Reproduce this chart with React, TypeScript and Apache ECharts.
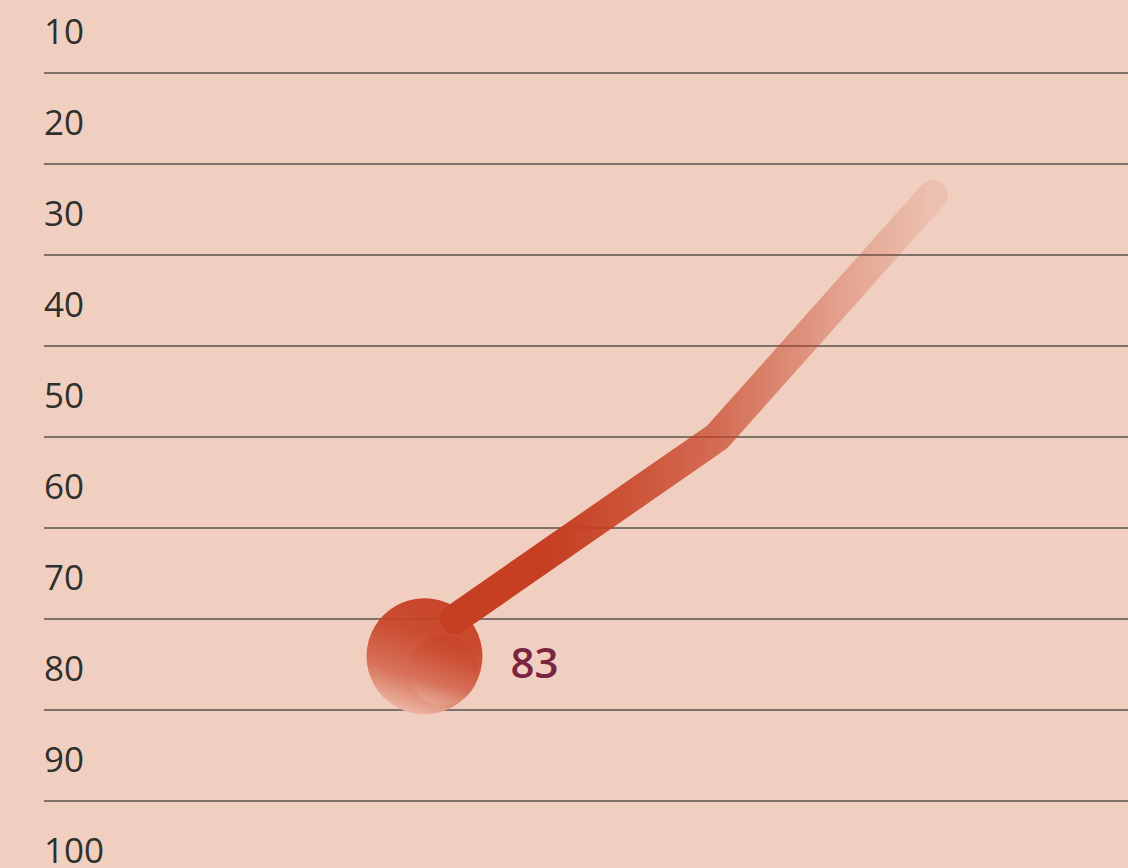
import React, { useEffect, useRef } from "react";
import * as echarts from "echarts";

// Y axis (inverted scale): ticks every 10 from 10 to 100
const yMin = 10;
const yMax = 100;
const yStep = 10;

// Trend line (x on a hidden 0–100 scale, y on the inverted value scale)
const lineX = [37.9, 62.1, 82.0];
const lineY = [80, 60, 33.4];

// Highlighted marker
const markerX = [35.1];
const markerY = [83];
const markerText = ["83"];

const BG = "#f1cfc0";
const RED = "198,63,34";
const FONT = "'Open Sans', 'Noto Sans', sans-serif";

// the chart canvas is taller than the page and shifted up, so the first
// grid line (value 10) sits just above the visible area
const SHIFT = 50;
const H = 868 + SHIFT;

export default function App() {
  const ref = useRef<HTMLDivElement>(null);

  useEffect(() => {
    if (!ref.current) return;
    const chart = echarts.init(ref.current, undefined, { renderer: "svg" });

    const lineData = lineX.map((x, i) => [x, lineY[i]]);
    const markerData = markerX.map((x, i) => [x, markerY[i]]);

    const circleGrad = (a: number, b: number) =>
      new echarts.graphic.LinearGradient(0.62, 0, 0.3, 1, [
        { offset: 0, color: `rgba(${RED},${a})` },
        { offset: 0.3, color: `rgba(200,68,40,${a})` },
        { offset: 0.68, color: `rgba(215,114,90,${b})` },
        { offset: 1, color: `rgba(238,190,172,${b})` },
      ]);

    chart.setOption({
      animation: false,
      backgroundColor: BG,
      grid: [
        // plot grid: grid lines + marks
        { left: 44, right: 0, top: 32, bottom: 67, containLabel: false, outerBoundsMode: "none" },
        // label grid: same scale, shifted half a band down so the numbers sit between lines
        { left: 44, right: 0, top: 80, bottom: 19, containLabel: false, outerBoundsMode: "none" },
      ],
      xAxis: [
        { type: "value", min: 0, max: 100, show: false, gridIndex: 0 },
        { type: "value", min: 0, max: 100, show: false, gridIndex: 1 },
      ],
      yAxis: [
        {
          type: "value",
          gridIndex: 0,
          inverse: true,
          min: yMin,
          max: yMax,
          interval: yStep,
          axisLine: { show: false },
          axisTick: { show: false },
          axisLabel: { show: false },
          splitLine: { show: true, lineStyle: { color: "#57534f", width: 1.5 } },
        },
        {
          type: "value",
          gridIndex: 1,
          inverse: true,
          min: yMin,
          max: yMax,
          interval: yStep,
          axisLine: { show: false },
          axisTick: { show: false },
          splitLine: { show: false },
          axisLabel: {
            inside: true,
            margin: 0,
            align: "left",
            verticalAlign: "middle",
            showMinLabel: true,
            showMaxLabel: true,
            color: "#2f2f2b",
            fontSize: 35,
            fontFamily: FONT,
          },
        },
      ],
      series: [
        {
          type: "scatter",
          xAxisIndex: 0,
          yAxisIndex: 0,
          data: markerData,
          symbol: "circle",
          symbolSize: 116,
          symbolOffset: [0, 10],
          z: 2,
          itemStyle: { color: circleGrad(0.95, 1), opacity: 1 },
          label: {
            show: true,
            position: "right",
            distance: 28,
            offset: [0, 5],
            formatter: (p: any) => markerText[p.dataIndex],
            color: "#7a2440",
            opacity: 1,
            fontSize: 42,
            fontWeight: 600,
            fontFamily: FONT,
          },
        },
        {
          type: "scatter",
          xAxisIndex: 0,
          yAxisIndex: 0,
          data: markerData,
          symbol: "circle",
          symbolSize: 70,
          symbolOffset: [19, 24],
          z: 3,
          silent: true,
          itemStyle: { color: circleGrad(0.4, 0.45), opacity: 1 },
        },
        {
          type: "line",
          xAxisIndex: 0,
          yAxisIndex: 0,
          data: lineData,
          symbol: "none",
          z: 4,
          lineStyle: {
            width: 30,
            cap: "round",
            join: "round",
            color: new echarts.graphic.LinearGradient(0, 0, 1, 0, [
              { offset: 0, color: `rgba(${RED},1)` },
              { offset: 0.2, color: `rgba(${RED},1)` },
              { offset: 0.41, color: `rgba(${RED},0.82)` },
              { offset: 0.54, color: `rgba(${RED},0.7)` },
              { offset: 0.82, color: `rgba(${RED},0.3)` },
              { offset: 1, color: `rgba(${RED},0.1)` },
            ]),
          },
        },
      ],
    });

    return () => chart.dispose();
  }, []);

  return (
    <div
      ref={ref}
      style={{ position: "fixed", left: 0, top: -SHIFT, width: 1128, height: H }}
    />
  );
}
